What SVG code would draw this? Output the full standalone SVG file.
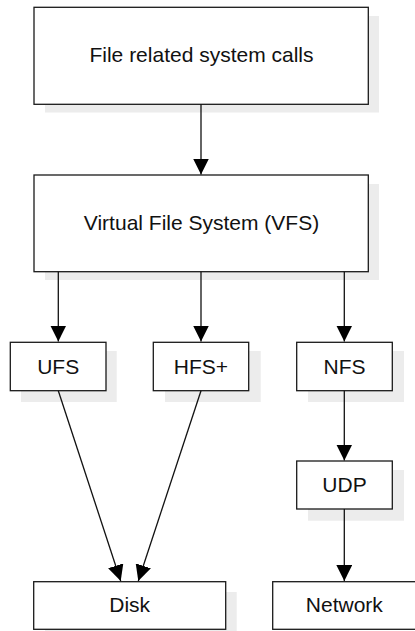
<svg xmlns="http://www.w3.org/2000/svg" width="415" height="631" viewBox="0 0 415 631">
<defs>
<marker id="ah" markerWidth="16" markerHeight="16" refX="16" refY="8" orient="auto" markerUnits="userSpaceOnUse">
<path d="M0,0 L16,8 L0,16 Z" fill="#000"/>
</marker>
<style>
.shadow{fill:#ececec;stroke:none}
.box{fill:#fff;stroke:#1a1a1a;stroke-width:1.3}
.lbl{font-family:"Liberation Sans",Arial,sans-serif;font-size:21px;fill:#111;text-anchor:middle}
.edge{stroke:#111;stroke-width:1.3;fill:none;marker-end:url(#ah)}
</style>
</defs>
<rect width="415" height="631" fill="#fff"/>
<g id="syscalls">
<rect class="shadow" x="45" y="16" width="334" height="96.5"/>
<rect class="box" x="34" y="7.3" width="334.3" height="97"/>
<text class="lbl" x="201.5" y="62">File related system calls</text>
</g>
<g id="vfs">
<rect class="shadow" x="45" y="184" width="334" height="96"/>
<rect class="box" x="34" y="175" width="334.3" height="96.7"/>
<text class="lbl" x="201.5" y="230">Virtual File System (VFS)</text>
</g>
<g id="ufs">
<rect class="shadow" x="21" y="351" width="95.7" height="51"/>
<rect class="box" x="10.3" y="342.3" width="95.7" height="48.4"/>
<text class="lbl" x="58.2" y="373.5">UFS</text>
</g>
<g id="hfs">
<rect class="shadow" x="165" y="351" width="95.7" height="51"/>
<rect class="box" x="153.3" y="342.3" width="95.4" height="48.4"/>
<text class="lbl" x="201" y="373.5">HFS+</text>
</g>
<g id="nfs">
<rect class="shadow" x="308" y="351" width="96" height="51"/>
<rect class="box" x="296.7" y="342.3" width="95.6" height="48.4"/>
<text class="lbl" x="344.5" y="373.5">NFS</text>
</g>
<g id="udp">
<rect class="shadow" x="308" y="470" width="96" height="50.7"/>
<rect class="box" x="296.7" y="461" width="95.6" height="48"/>
<text class="lbl" x="344.5" y="492.3">UDP</text>
</g>
<g id="disk">
<rect class="shadow" x="45" y="592" width="191.7" height="45"/>
<rect class="box" x="33.7" y="581.7" width="192" height="47.6"/>
<text class="lbl" x="129.7" y="612.3">Disk</text>
</g>
<g id="network">
<rect class="box" x="272.7" y="581.7" width="143" height="47.6"/>
<text class="lbl" x="344.3" y="612.3">Network</text>
</g>
<g id="connectors">
<line class="edge" x1="201" y1="104.3" x2="201" y2="174.5"/>
<line class="edge" x1="58.3" y1="271.7" x2="58.3" y2="341.5"/>
<line class="edge" x1="201" y1="271.7" x2="201" y2="341.5"/>
<line class="edge" x1="344.3" y1="271.7" x2="344.3" y2="341.5"/>
<line class="edge" x1="344.3" y1="390.7" x2="344.3" y2="460.5"/>
<line class="edge" x1="344.3" y1="509" x2="344.3" y2="581"/>
<line class="edge" x1="58.3" y1="390.7" x2="120.7" y2="581"/>
<line class="edge" x1="201" y1="390.7" x2="138.3" y2="581"/>
</g>
</svg>
